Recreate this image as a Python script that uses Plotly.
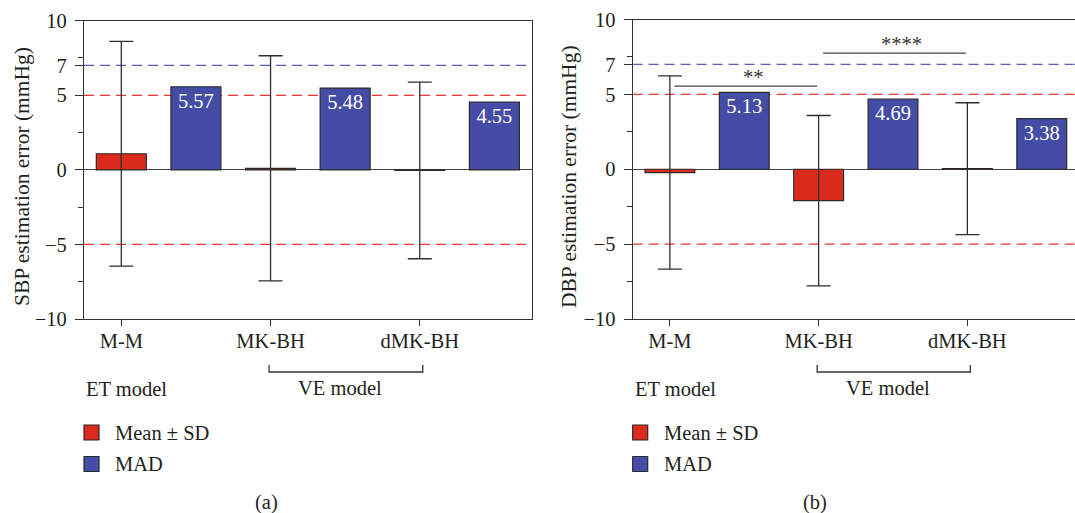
import plotly.graph_objects as go

# ---------------- data ----------------
categories = ["M-M", "MK-BH", "dMK-BH"]
sbp_mean = [1.08, 0.10, -0.04]
sbp_sd = [7.54, 7.55, 5.92]
sbp_mad = [5.57, 5.48, 4.55]
dbp_mean = [-0.22, -2.10, 0.04]
dbp_sd = [6.45, 5.69, 4.40]
dbp_mad = [5.13, 4.69, 3.38]
y_tick_vals = [-10, -5, 0, 5, 7, 10]
y_tick_text = ["\u221210", "\u22125", "0", "5", "7", "10"]
y_minor_vals = [-7.5, -2.5, 2.5, 7.5]
ref_levels = [7, 5, -5]
ref_kinds = ["blue", "red", "red"]
dbp_sig_pairs = [(0, 1), (1, 2)]
dbp_sig_marks = ["**", "****"]
dbp_sig_levels = [5.55, 7.75]
legend_labels = ["Mean \u00b1 SD", "MAD"]
panel_titles = ["SBP estimation error (mmHg)", "DBP estimation error (mmHg)"]
panel_tags = ["(a)", "(b)"]

# ---------------- style ----------------
W, H = 1075, 513
FONT = "Liberation Serif"
TXT = "#231f20"
RED = "#dc2b1c"
BLUE = "#444ca5"
EDGE = "#2b2b2b"
AX = "#333333"
DASH_COL = {"blue": "#5a5fbc", "red": "#e5392f"}
FS = 20.5
FS_TITLE = 21.5


def px(x):
    return x / W


def py(y):
    return 1 - y / H


fig = go.Figure()

panels = [
    dict(xa="x", ya="y", mean=sbp_mean, sd=sbp_sd, mad=sbp_mad),
    dict(xa="x2", ya="y2", mean=dbp_mean, sd=dbp_sd, mad=dbp_mad),
]

n = len(categories)
x_red = [2 * i for i in range(n)]
x_blue = [2 * i + 1 for i in range(n)]

for p in panels:
    fig.add_trace(go.Bar(
        x=x_red, y=p["mean"], width=0.67,
        marker=dict(color=RED, line=dict(color=EDGE, width=1.2)),
        error_y=dict(type="data", array=p["sd"], visible=True,
                     color="#2e2e2e", thickness=1.3, width=12),
        xaxis=p["xa"], yaxis=p["ya"], showlegend=False, hoverinfo="skip",
    ))
    fig.add_trace(go.Bar(
        x=x_blue, y=p["mad"], width=0.67,
        marker=dict(color=BLUE, line=dict(color=EDGE, width=1.2)),
        text=[f"{v:.2f}" for v in p["mad"]],
        textposition="inside", insidetextanchor="end", textangle=0,
        textfont=dict(color="white", size=FS, family=FONT),
        xaxis=p["xa"], yaxis=p["ya"], showlegend=False, hoverinfo="skip",
    ))

common_x = dict(
    tickmode="array", tickvals=x_red, ticktext=categories,
    ticks="outside", ticklen=6, tickwidth=1.3, tickcolor=AX,
    showline=True, linecolor=AX, linewidth=1.3,
    showgrid=False, zeroline=False, automargin=False,
    tickfont=dict(family=FONT, size=FS, color=TXT),
    ticklabelstandoff=-3,
    fixedrange=True,
)
common_y = dict(
    range=[-10, 10], tickmode="array", tickvals=y_tick_vals, ticktext=y_tick_text,
    ticks="outside", ticklen=8, tickwidth=1.3, tickcolor=AX,
    minor=dict(tickmode="array", tickvals=y_minor_vals, ticks="outside",
               ticklen=5, tickwidth=1.3, tickcolor=AX, showgrid=False),
    showline=True, linecolor=AX, linewidth=1.3,
    showgrid=False, zeroline=True, zerolinecolor="#444444", zerolinewidth=1.3,
    automargin=False,
    tickfont=dict(family=FONT, size=FS, color=TXT),
    ticklabelstandoff=4,
    fixedrange=True,
)

fig.update_layout(
    width=W, height=H,
    margin=dict(l=0, r=0, t=0, b=0, autoexpand=False),
    paper_bgcolor="white", plot_bgcolor="white",
    barmode="overlay", showlegend=False,
    font=dict(family=FONT, size=FS, color=TXT),
    xaxis=dict(common_x, domain=[px(84), px(531.7)], range=[-0.5, 5.5],
               anchor="y", mirror=True),
    yaxis=dict(common_y, domain=[py(319), py(20.7)], anchor="x", mirror=True),
    xaxis2=dict(common_x, domain=[px(632.7), 1.0], range=[-0.5, 5.447],
                anchor="y2", mirror=True),
    yaxis2=dict(common_y, domain=[py(319), py(19.5)], anchor="x2", mirror=False),
)

shapes = []
annotations = []

for k, p in enumerate(panels):
    xa, ya = p["xa"], p["ya"]
    # reference dashed lines
    for lvl, kind in zip(ref_levels, ref_kinds):
        shapes.append(dict(type="line", xref=f"{xa} domain", yref=ya,
                           x0=0, x1=1, y0=lvl, y1=lvl, layer="below",
                           line=dict(color=DASH_COL[kind], width=1.3, dash="10px,6px")))
    # VE model bracket under MK-BH .. dMK-BH
    xb0, xb1 = x_red[1] - 0.02, x_red[2] + 0.04
    yt, yb = py(365), py(372)
    shapes.append(dict(type="path", xref=xa, yref="paper",
                       path=f"M {xb0},{yt} L {xb0},{yb} L {xb1},{yb} L {xb1},{yt}",
                       line=dict(color=AX, width=1.3)))
    annotations.append(dict(x=(x_red[1] + x_red[2]) / 2 - 0.07, xref=xa, y=py(388), yref="paper",
                            text="VE model", showarrow=False, xanchor="center", yanchor="middle",
                            font=dict(size=FS, family=FONT, color=TXT)))
    left_px = 84 if k == 0 else 632.7
    annotations.append(dict(x=px(left_px), xref="paper", y=py(389), yref="paper",
                            text="ET model", showarrow=False, xanchor="left", yanchor="middle",
                            font=dict(size=FS, family=FONT, color=TXT)))
    # legend
    for j, (lab, col) in enumerate(zip(legend_labels, [RED, BLUE])):
        yc = 432.5 + j * 31.5
        shapes.append(dict(type="rect", xref="paper", yref="paper",
                           x0=px(left_px), x1=px(left_px + 15), y0=py(yc - 7.5), y1=py(yc + 7.5),
                           fillcolor=col, line=dict(color=EDGE, width=1.2)))
        annotations.append(dict(x=px(left_px + 29), xref="paper", y=py(yc), yref="paper",
                                text=lab, showarrow=False, xanchor="left", yanchor="middle",
                                font=dict(size=FS, family=FONT, color=TXT)))
    # panel tag
    annotations.append(dict(x=x_red[1] - 0.05, xref=xa, y=py(502), yref="paper",
                            text=panel_tags[k], showarrow=False, xanchor="center", yanchor="middle",
                            font=dict(size=FS, family=FONT, color=TXT)))
    # y-axis title
    tx = 22 if k == 0 else 569
    annotations.append(dict(x=px(tx), xref="paper", y=py(177), yref="paper",
                            text=panel_titles[k], textangle=-90, showarrow=False,
                            xanchor="center", yanchor="middle",
                            font=dict(size=FS_TITLE, family=FONT, color=TXT)))

# significance marks on DBP panel
for (a, b), mark, lvl in zip(dbp_sig_pairs, dbp_sig_marks, dbp_sig_levels):
    x0, x1 = x_red[a] + 0.06, x_red[b] - 0.02
    shapes.append(dict(type="line", xref="x2", yref="y2", x0=x0, x1=x1, y0=lvl, y1=lvl,
                       line=dict(color="#444444", width=1.3)))
    annotations.append(dict(x=(x0 + x1) / 2 + 0.1, xref="x2", y=lvl, yref="y2",
                            text=mark, showarrow=False, xanchor="center", yanchor="bottom",
                            yshift=-4, font=dict(size=FS, family=FONT, color="#333333")))

fig.update_layout(shapes=shapes, annotations=annotations)
fig.write_html("out.html")
